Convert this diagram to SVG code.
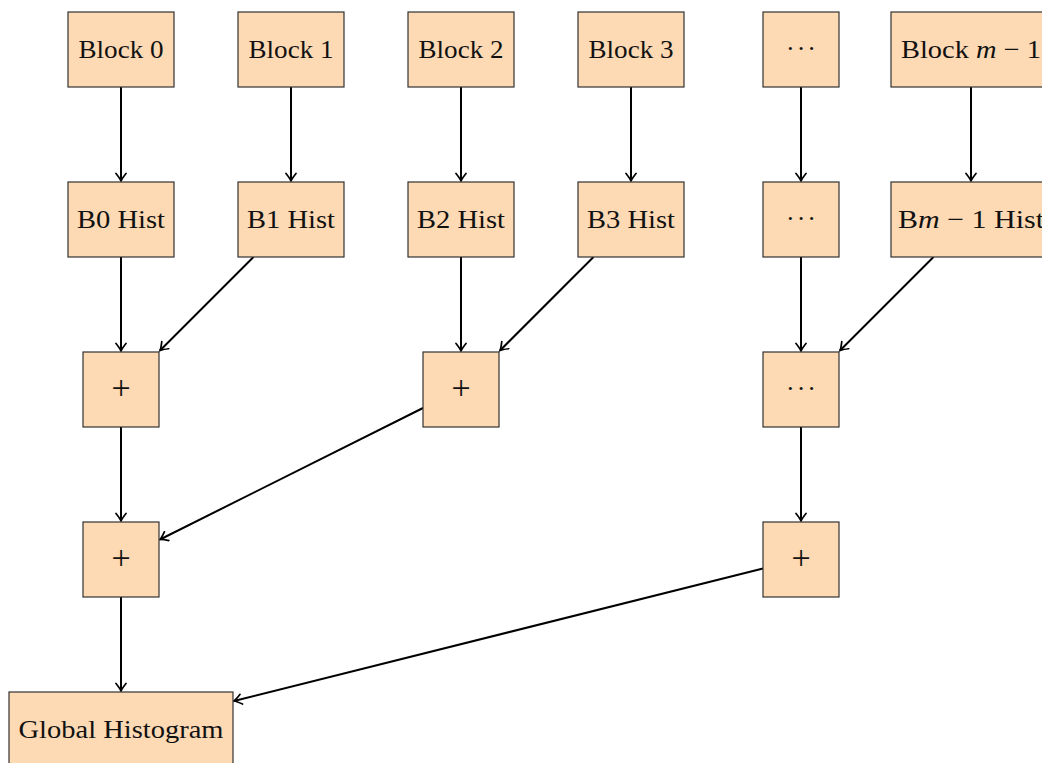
<svg xmlns="http://www.w3.org/2000/svg" width="1042" height="763" viewBox="0 0 1042 763">
<defs>
<style>
.n{fill:#fdd9b4;stroke:#333;stroke-width:1.2}
.t{font-family:"Liberation Serif","DejaVu Serif",serif;font-size:26px;fill:#111;text-anchor:middle}
.p{font-size:34px}
.e{stroke:#000;stroke-width:2;fill:none;marker-end:url(#ah)}
</style>
<marker id="ah" markerUnits="userSpaceOnUse" viewBox="-10 -6 12 12" refX="0" refY="0" markerWidth="12" markerHeight="12" orient="auto">
<path d="M-7.5,-5 Q-2.5,-1 0,0 Q-2.5,1 -7.5,5" fill="none" stroke="#000" stroke-width="1.7" stroke-linecap="round"/>
</marker>
</defs>
<rect width="1042" height="763" fill="#fff"/>
<g id="connectors">
<line class="e" x1="121" y1="87" x2="121" y2="181"/>
<line class="e" x1="291" y1="87" x2="291" y2="181"/>
<line class="e" x1="461" y1="87" x2="461" y2="181"/>
<line class="e" x1="631" y1="87" x2="631" y2="181"/>
<line class="e" x1="801" y1="87" x2="801" y2="181"/>
<line class="e" x1="971" y1="87" x2="971" y2="181"/>
<line class="e" x1="121" y1="257" x2="121" y2="351"/>
<line class="e" x1="253.5" y1="257" x2="160" y2="350.5"/>
<line class="e" x1="461" y1="257" x2="461" y2="351"/>
<line class="e" x1="593.5" y1="257" x2="500" y2="350.5"/>
<line class="e" x1="801" y1="257" x2="801" y2="351"/>
<line class="e" x1="933.5" y1="257" x2="840" y2="350.5"/>
<line class="e" x1="121" y1="427" x2="121" y2="521"/>
<line class="e" x1="423" y1="408" x2="160" y2="539.5"/>
<line class="e" x1="801" y1="427" x2="801" y2="521"/>
<line class="e" x1="121" y1="597" x2="121" y2="691"/>
<line class="e" x1="763" y1="568.5" x2="234" y2="701"/>
</g>
<g id="block0"><rect class="n" x="68" y="12" width="106" height="75"/><text class="t" x="121" y="58" textLength="85" lengthAdjust="spacingAndGlyphs">Block 0</text></g>
<g id="block1"><rect class="n" x="238" y="12" width="106" height="75"/><text class="t" x="291" y="58" textLength="85" lengthAdjust="spacingAndGlyphs">Block 1</text></g>
<g id="block2"><rect class="n" x="408" y="12" width="106" height="75"/><text class="t" x="461" y="58" textLength="85" lengthAdjust="spacingAndGlyphs">Block 2</text></g>
<g id="block3"><rect class="n" x="578" y="12" width="106" height="75"/><text class="t" x="631" y="58" textLength="85" lengthAdjust="spacingAndGlyphs">Block 3</text></g>
<g id="blockdots"><rect class="n" x="763" y="12" width="76" height="75"/><text class="t" x="801" y="57" textLength="30">· · ·</text></g>
<g id="blockm1"><rect class="n" x="891" y="12" width="160" height="75"/><text class="t" x="971" y="58" textLength="140" lengthAdjust="spacingAndGlyphs">Block <tspan font-style="italic">m</tspan> − 1</text></g>
<g id="hist0"><rect class="n" x="68" y="182" width="106" height="75"/><text class="t" x="121" y="228" textLength="88" lengthAdjust="spacingAndGlyphs">B0 Hist</text></g>
<g id="hist1"><rect class="n" x="238" y="182" width="106" height="75"/><text class="t" x="291" y="228" textLength="88" lengthAdjust="spacingAndGlyphs">B1 Hist</text></g>
<g id="hist2"><rect class="n" x="408" y="182" width="106" height="75"/><text class="t" x="461" y="228" textLength="88" lengthAdjust="spacingAndGlyphs">B2 Hist</text></g>
<g id="hist3"><rect class="n" x="578" y="182" width="106" height="75"/><text class="t" x="631" y="228" textLength="88" lengthAdjust="spacingAndGlyphs">B3 Hist</text></g>
<g id="histdots"><rect class="n" x="763" y="182" width="76" height="75"/><text class="t" x="801" y="227" textLength="30">· · ·</text></g>
<g id="histm1"><rect class="n" x="891" y="182" width="160" height="75"/><text class="t" x="971" y="228" textLength="146" lengthAdjust="spacingAndGlyphs">B<tspan font-style="italic">m</tspan> − 1 Hist</text></g>
<g id="sum01"><rect class="n" x="83" y="352" width="76" height="75"/><text class="t p" x="121" y="399">+</text></g>
<g id="sum23"><rect class="n" x="423" y="352" width="76" height="75"/><text class="t p" x="461" y="399">+</text></g>
<g id="sumdots"><rect class="n" x="763" y="352" width="76" height="75"/><text class="t" x="801" y="397" textLength="30">· · ·</text></g>
<g id="sum03"><rect class="n" x="83" y="522" width="76" height="75"/><text class="t p" x="121" y="569">+</text></g>
<g id="sumrest"><rect class="n" x="763" y="522" width="76" height="75"/><text class="t p" x="801" y="569">+</text></g>
<g id="global"><rect class="n" x="9" y="692" width="224" height="76"/><text class="t" x="121" y="738" textLength="205" lengthAdjust="spacingAndGlyphs">Global Histogram</text></g>
</svg>
